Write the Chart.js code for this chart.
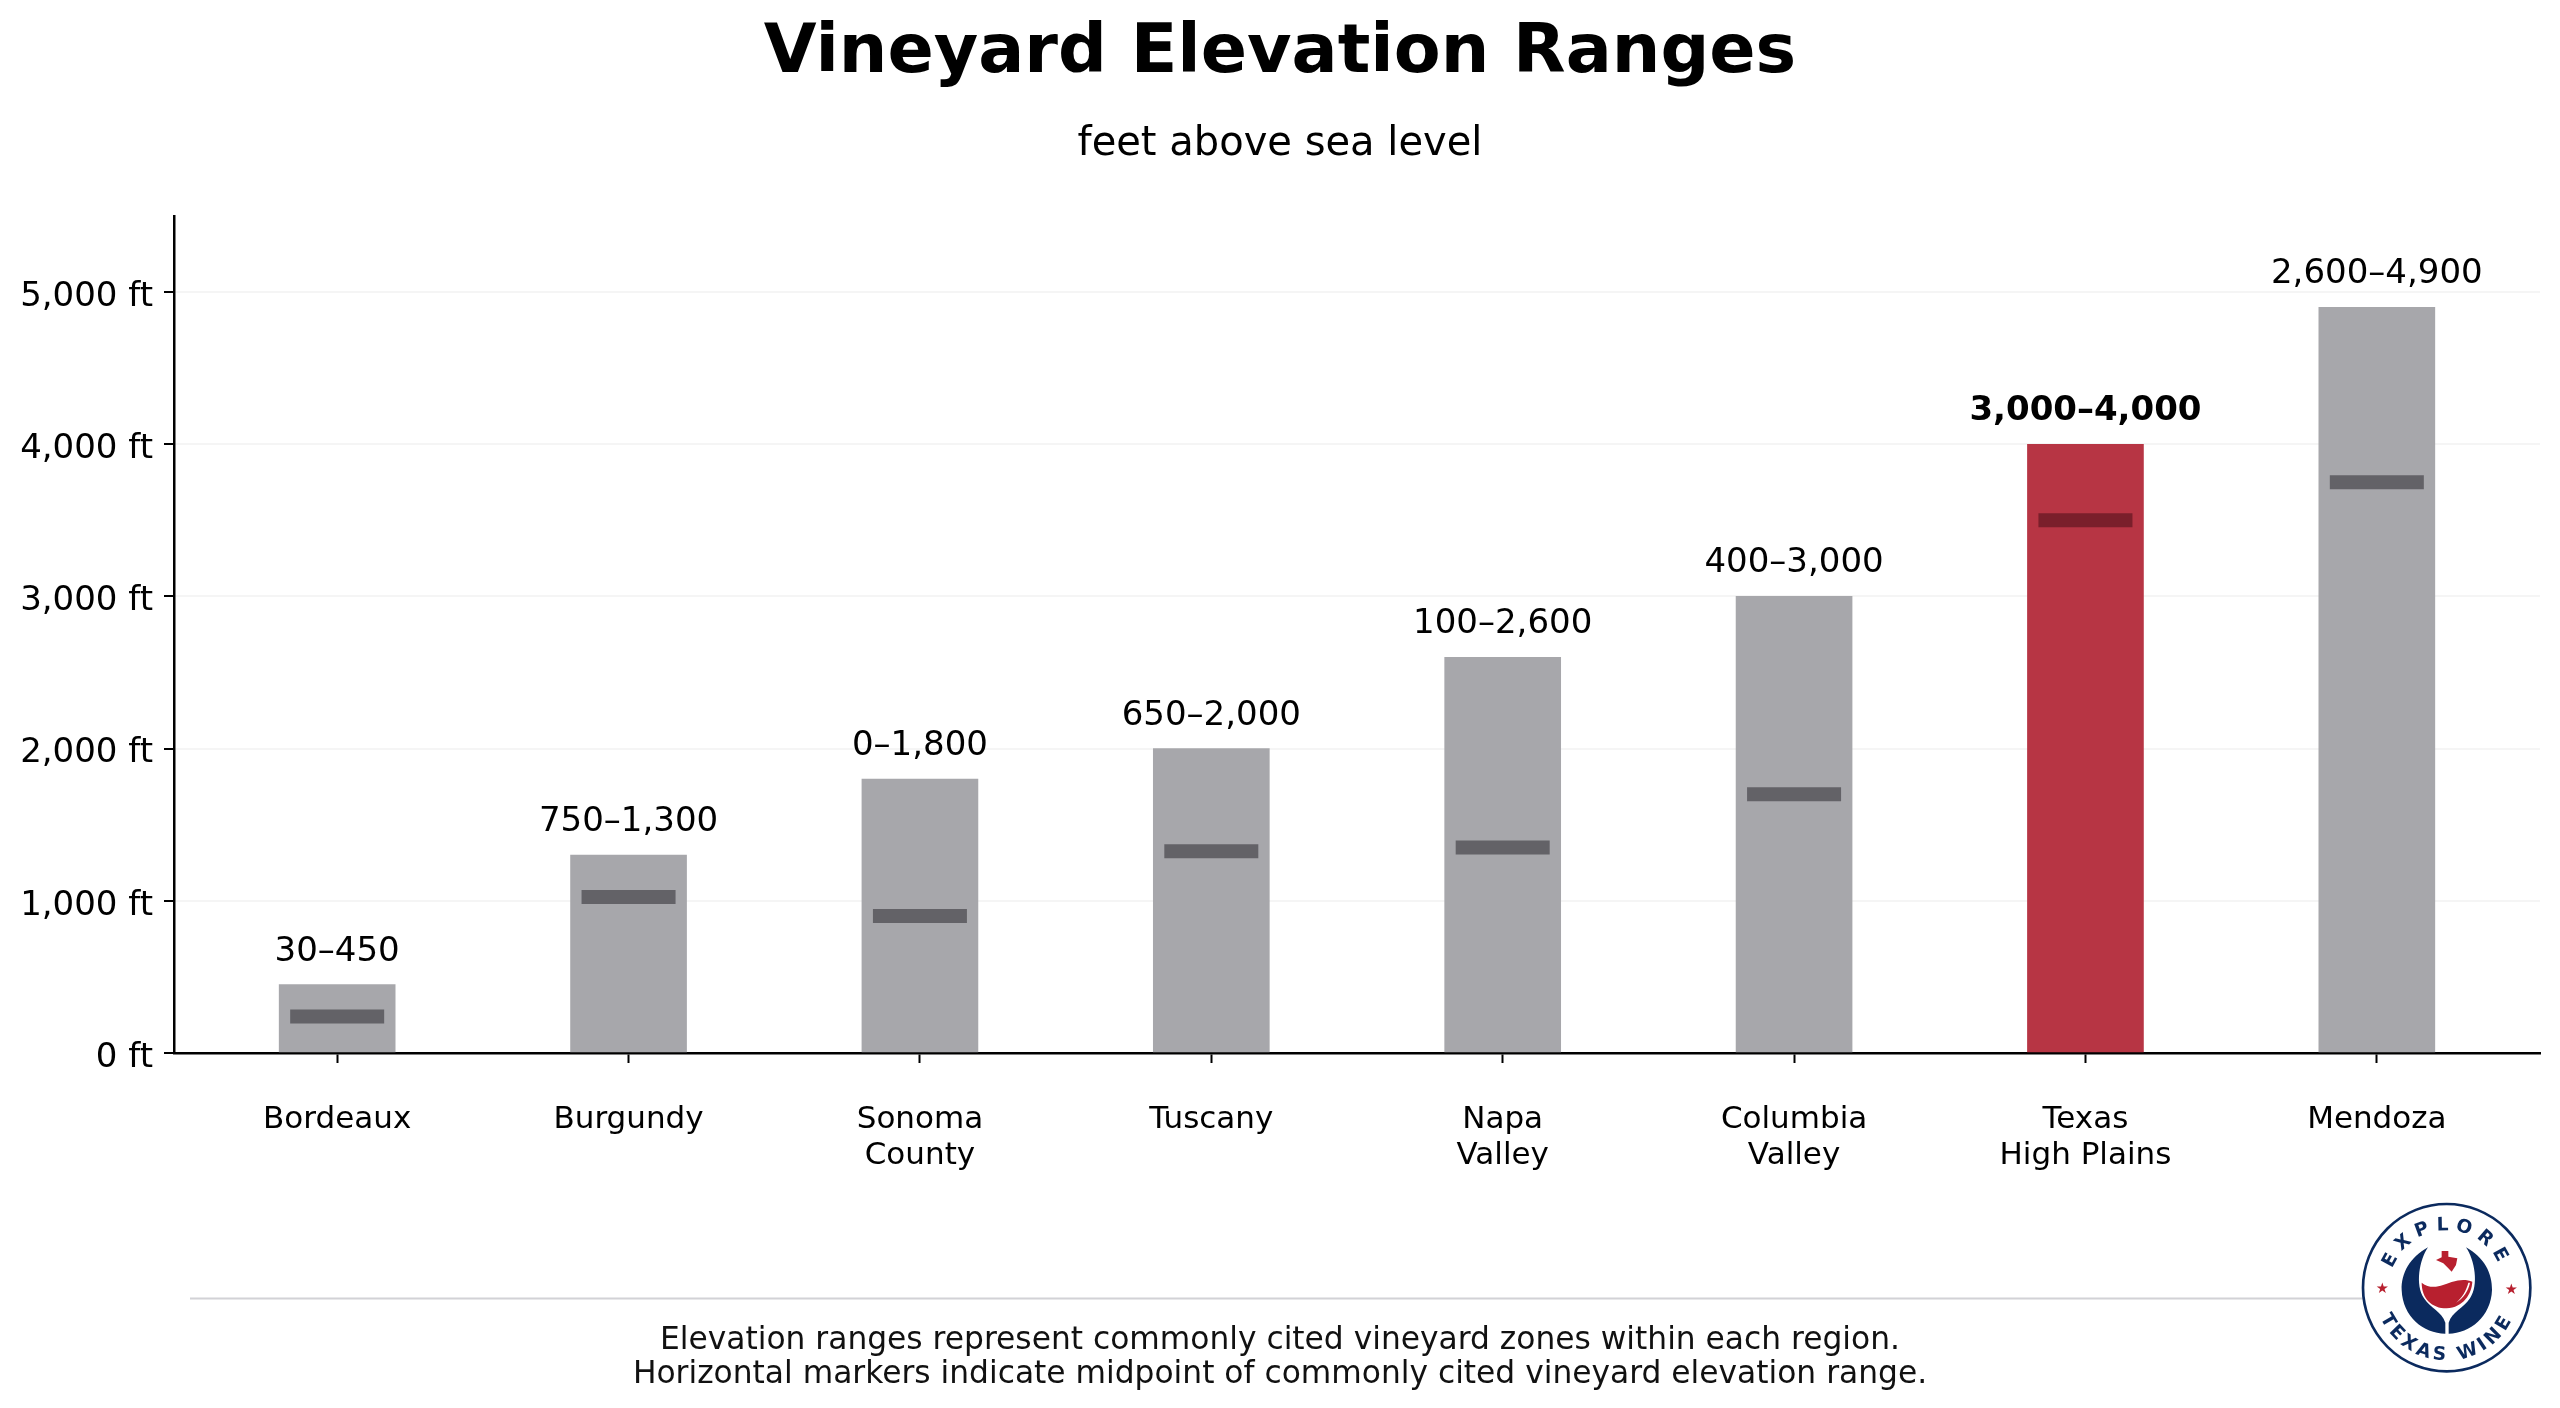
<!DOCTYPE html>
<html>
<head>
<meta charset="utf-8">
<style>
html,body{margin:0;padding:0;background:#fff;width:2560px;height:1408px;overflow:hidden}
#wrap{position:relative;width:2560px;height:1408px}
canvas{position:absolute;left:0;top:0}
#logo{position:absolute;left:2300px;top:1170px}
</style>
<script src="https://cdn.jsdelivr.net/npm/chart.js@4"></script>
</head>
<body>
<div id="wrap">
<canvas id="c" width="2560" height="1408"></canvas>
<svg id="logo" width="260" height="238" viewBox="0 0 780 714" xmlns="http://www.w3.org/2000/svg">
  <defs>
    <path id="arcTop" d="M 268 353 A 172 172 0 0 1 612 353"/>
    <path id="arcBot" d="M 222 353 A 218 218 0 0 0 658 353"/>
  </defs>
  <circle cx="440" cy="353" r="251" fill="#fff" stroke="#0b2a5e" stroke-width="8"/>
  <path fill="#0b2a5e" d="M384,232 C330,262 303,310 305,360 C308,440 370,490 436,491 L436,458 C425,425 392,415 372,385 C345,345 358,270 384,232Z"/>
  <path fill="#0b2a5e" d="M498,232 C552,262 578,310 576,360 C573,440 510,490 446,491 L446,458 C457,425 490,415 510,385 C537,345 524,270 498,232Z"/>
  <path fill="#b8202f" d="M365,338 C395,362 430,345 455,336 C480,328 500,328 517,335 C515,372 490,412 440,415 C395,415 365,385 365,338Z"/>
  <path fill="#fff" d="M505,338 C500,360 485,385 468,398 C490,385 505,362 510,338Z"/>
  <path fill="#b8202f" d="M425,243 L445,243 L445,260 L472,265 L468,285 L455,305 L445,295 L430,280 L408,270 L425,262Z"/>
  <g fill="#0b2a5e" font-family="'DejaVu Sans','Liberation Sans',sans-serif" font-weight="bold" font-size="56">
    <text letter-spacing="20" text-anchor="middle"><textPath href="#arcTop" startOffset="50%">EXPLORE</textPath></text>
    <text letter-spacing="11" text-anchor="middle"><textPath href="#arcBot" startOffset="50%">TEXAS WINE</textPath></text>
  </g>
  <g fill="#b8202f" font-family="'DejaVu Sans'" font-size="44" text-anchor="middle">
    <text x="247" y="369">★</text>
    <text x="634" y="373">★</text>
  </g>
</svg>
</div>
<script>
const categories = [['Bordeaux'],['Burgundy'],['Sonoma','County'],['Tuscany'],['Napa','Valley'],['Columbia','Valley'],['Texas','High Plains'],['Mendoza']];
const lowValues  = [30, 750, 0, 650, 100, 400, 3000, 2600];
const highValues = [450, 1300, 1800, 2000, 2600, 3000, 4000, 4900];
const markerValues = [240, 1025, 900, 1325, 1350, 1700, 3500, 3750];
const highlightIndex = 6;
const yTicks = [0, 1000, 2000, 3000, 4000, 5000];
const titleText = 'Vineyard Elevation Ranges';
const subtitleText = 'feet above sea level';
const footerLines = ['Elevation ranges represent commonly cited vineyard zones within each region.',
                     'Horizontal markers indicate midpoint of commonly cited vineyard elevation range.'];

const FONT = "'DejaVu Sans'";
const fmt = v => v.toLocaleString('en-US');
const positions = categories.map((_, i) => i);

const overlay = {
  id: 'overlay',
  afterDatasetsDraw(chart) {
    const {ctx, scales: {x, y}} = chart;
    ctx.save();
    ctx.textAlign = 'center';
    ctx.textBaseline = 'alphabetic';
    ctx.fillStyle = '#000';
    highValues.forEach((h, i) => {
      ctx.font = (i === highlightIndex ? 'bold ' : '') + '34px ' + FONT;
      ctx.fillText(fmt(lowValues[i]) + '–' + fmt(h), x.getPixelForValue(i), y.getPixelForValue(h) - 24);
    });
    ctx.restore();
  },
  afterDraw(chart) {
    const {ctx} = chart;
    ctx.save();
    ctx.strokeStyle = '#d2d2d6';
    ctx.lineWidth = 2;
    ctx.beginPath(); ctx.moveTo(190, 1298.5); ctx.lineTo(2371, 1298.5); ctx.stroke();
    ctx.fillStyle = '#111';
    ctx.font = '31.3px ' + FONT;
    ctx.textAlign = 'center';
    ctx.textBaseline = 'alphabetic';
    ctx.fillText(footerLines[0], 1280, 1349);
    ctx.fillText(footerLines[1], 1280, 1383);
    ctx.restore();
  }
};

new Chart(document.getElementById('c'), {
  type: 'bar',
  data: {
    datasets: [
      {
        type: 'line',
        label: 'Midpoint',
        order: 0,
        data: positions.map(i => ({x: i, y: markerValues[i]})),
        showLine: false,
        pointStyle: 'line',
        pointRadius: 47,
        pointBorderWidth: 14,
        pointBorderColor: positions.map(i => i === highlightIndex ? '#7a1f2b' : '#636267'),
        pointBackgroundColor: 'transparent'
      },
      {
        type: 'bar',
        label: 'Range',
        order: 1,
        data: positions.map(i => ({x: i, y: highValues[i]})),
        barThickness: 116,
        backgroundColor: positions.map(i => i === highlightIndex ? '#b73544' : '#a7a7ab'),
        borderWidth: 0
      }
    ]
  },
  plugins: [overlay],
  options: {
    responsive: false,
    animation: false,
    devicePixelRatio: 1,
    layout: {autoPadding: false, padding: {top: 0, left: 20, right: 20, bottom: 0}},
    plugins: {
      legend: {display: false},
      tooltip: {enabled: false},
      title: {display: true, text: titleText, color: '#000',
        font: {family: FONT, size: 68.3, weight: 'bold', lineHeight: 1.2}, padding: {top: 13, bottom: 0}},
      subtitle: {display: true, text: subtitleText, color: '#000',
        font: {family: FONT, size: 40, weight: 'normal', lineHeight: 1.2}, padding: {top: 26, bottom: 47}}
    },
    scales: {
      x: {
        type: 'linear',
        offset: false,
        min: -0.56, max: 7.56,
        afterBuildTicks: s => { s.ticks = positions.map(v => ({value: v})); },
        afterFit: s => { s.height = 355; },
        border: {color: '#000', width: 2.5},
        grid: {offset: false, drawOnChartArea: false, color: '#000', tickLength: 10, tickWidth: 2, tickColor: '#000'},
        ticks: {
          autoSkip: false, maxRotation: 0, padding: 39, color: '#000',
          font: {family: FONT, size: 31, lineHeight: 1.16},
          callback: v => categories[v]
        }
      },
      y: {
        type: 'linear',
        min: 0, max: 5500,
        afterBuildTicks: s => { s.ticks = yTicks.map(v => ({value: v})); },
        afterFit: s => { s.width = 154; },
        border: {color: '#000', width: 2.5},
        grid: {color: '#f5f5f5', lineWidth: 2, tickLength: 10, tickWidth: 2, tickColor: '#000'},
        ticks: {
          padding: 11, labelOffset: 5, color: '#000',
          font: {family: FONT, size: 34},
          callback: v => fmt(v) + ' ft'
        }
      }
    }
  }
});
</script>
</body>
</html>
